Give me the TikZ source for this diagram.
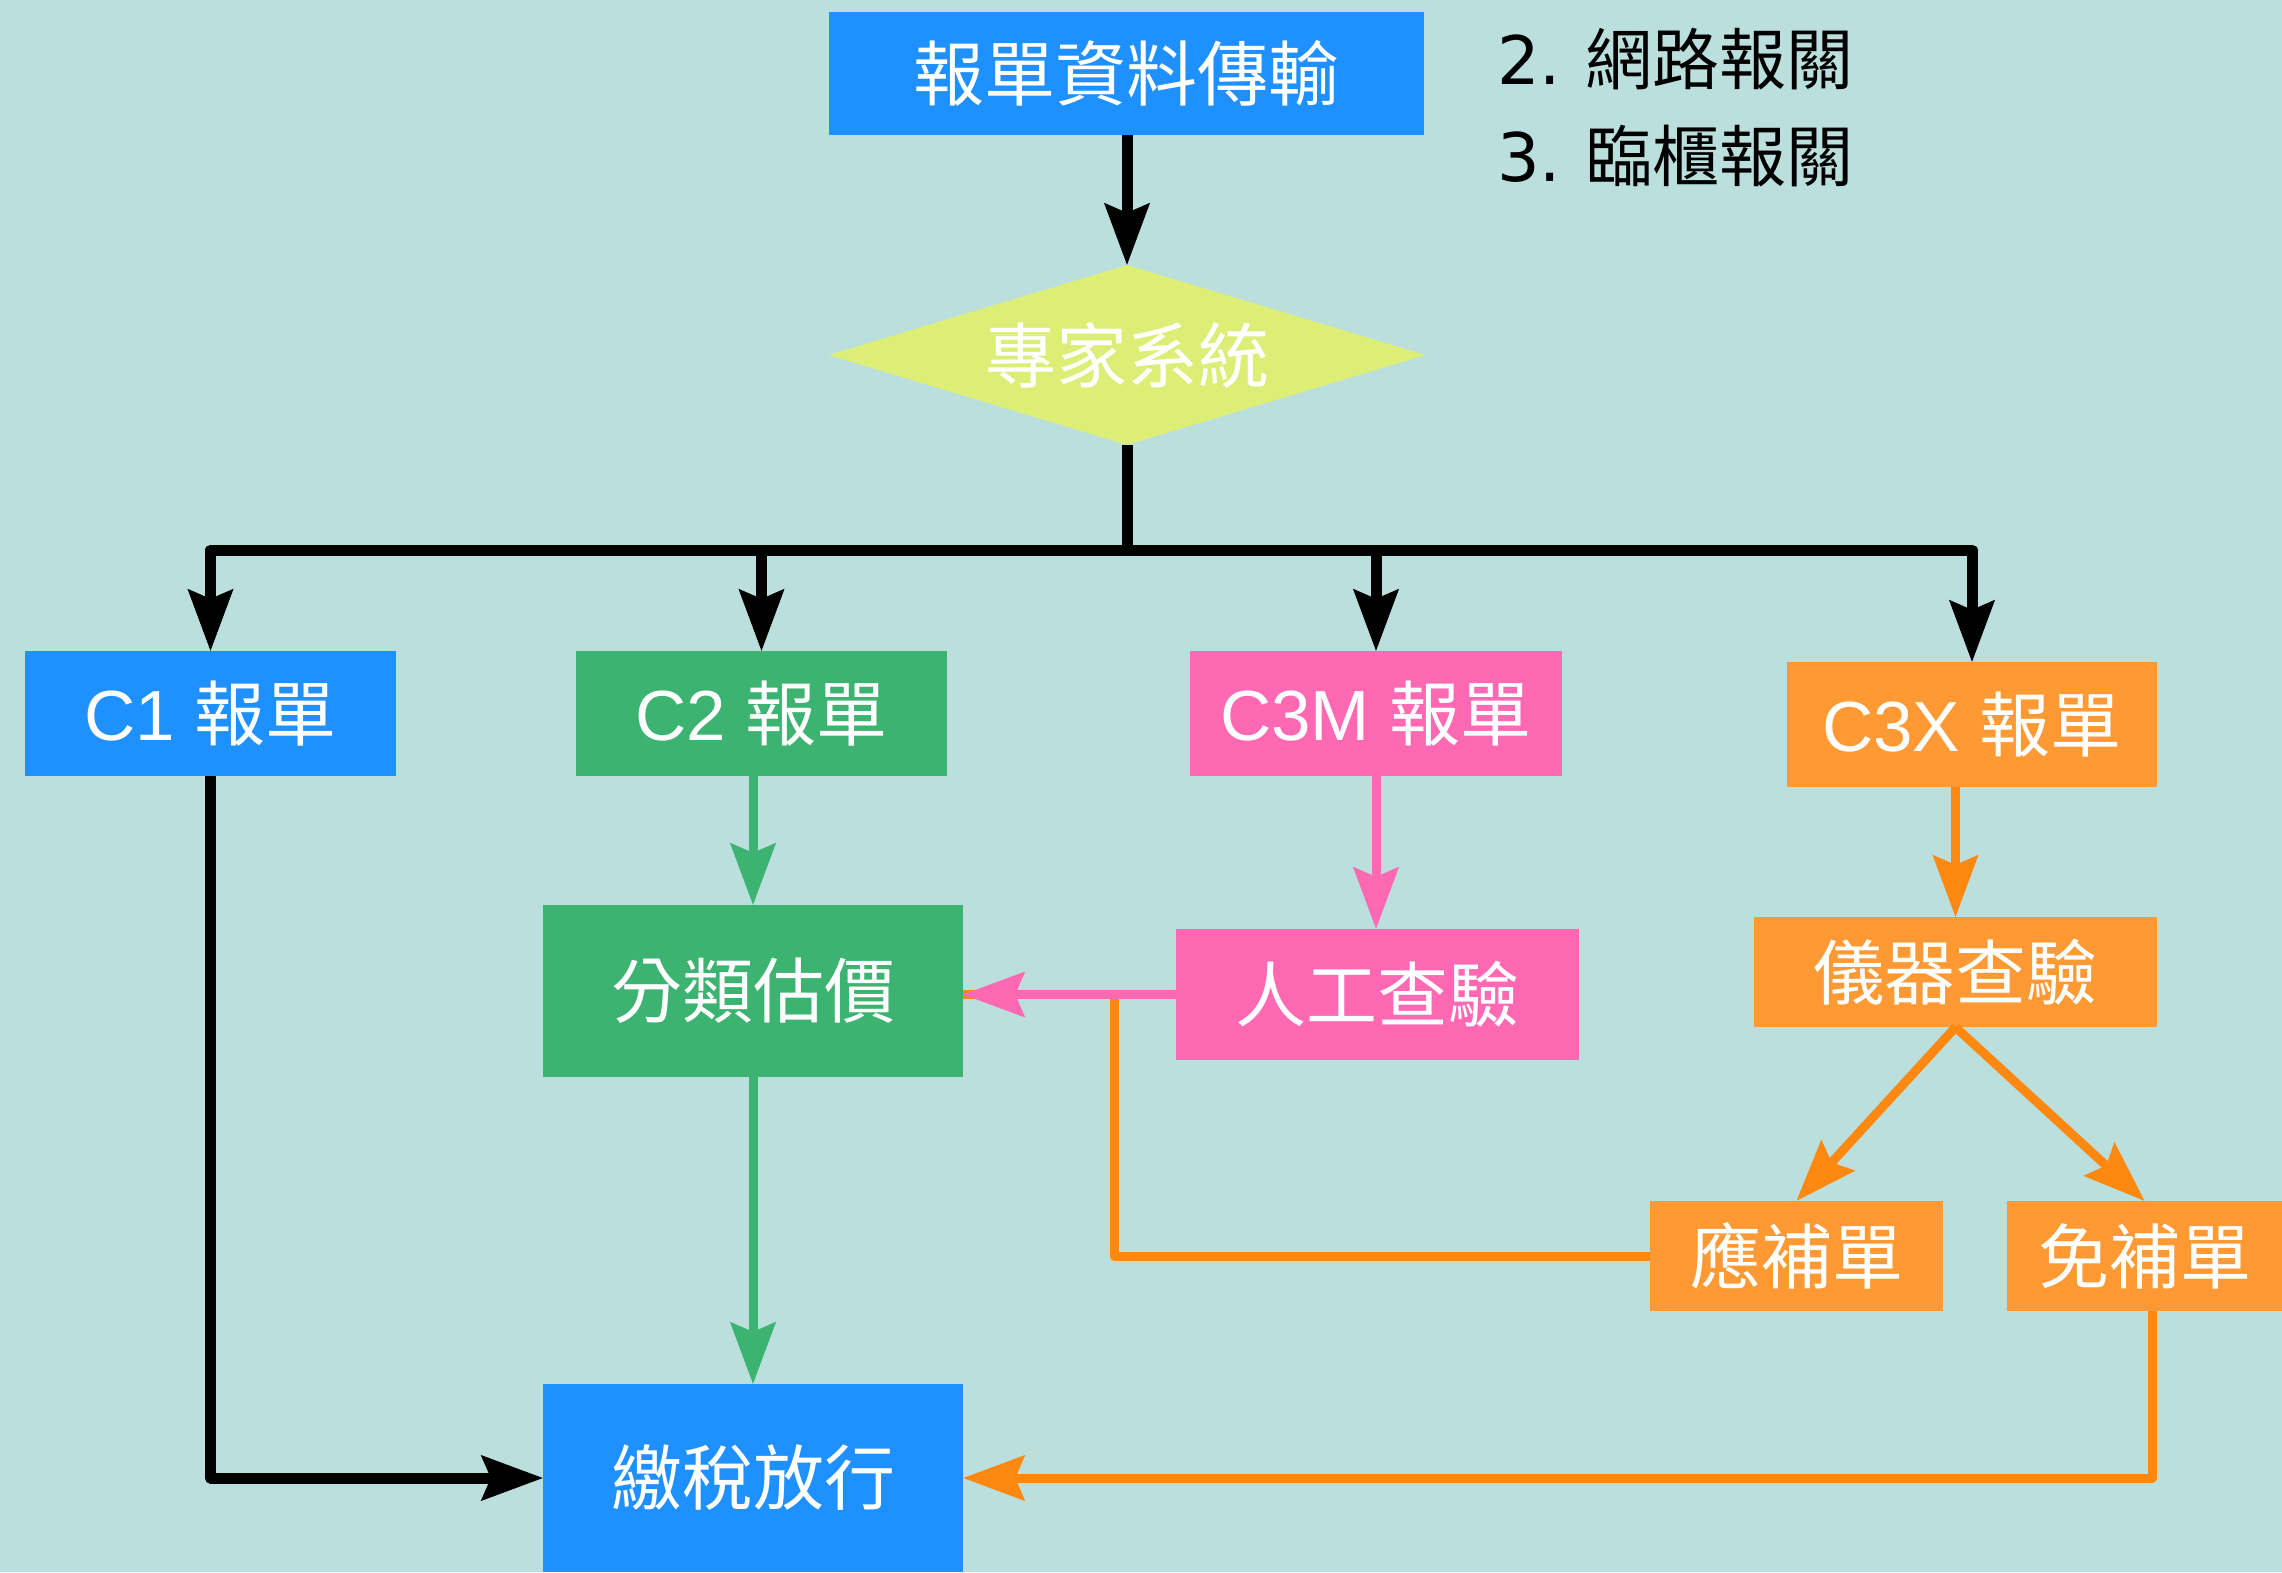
\documentclass[tikz,border=0pt]{standalone}
\usepackage{fontspec}
\setmainfont{Liberation Sans}
\newfontfamily\cjk{Noto Sans CJK TC}
\newfontfamily\dvs{DejaVu Sans}
\usetikzlibrary{arrows.meta,shapes.geometric}
\definecolor{bg}{HTML}{BBDFDC}
\definecolor{cblue}{HTML}{1E90FF}
\definecolor{cgreen}{HTML}{3CB371}
\definecolor{cpink}{HTML}{FF69B4}
\definecolor{corange}{HTML}{FF9933}
\definecolor{lorange}{HTML}{FF8811}
\definecolor{cyel}{HTML}{DDEE77}
\begin{document}
\begin{tikzpicture}[x=1pt,y=-1pt,
  box/.style={rectangle,inner sep=0pt,text=white,font=\fontsize{71}{80}\selectfont},
  tip/.style={-{Stealth[length=62pt,width=46pt,inset=10pt,line width=1pt]}},
  blk/.style={draw=black,line width=11pt,line join=round},
  grn/.style={draw=cgreen,line width=9pt,line join=round},
  pnk/.style={draw=cpink,line width=9pt,line join=round},
  org/.style={draw=lorange,line width=9pt,line join=round},
  note/.style={anchor=west,inner sep=0pt,text=black,font=\fontsize{67}{75}\selectfont}
]
\useasboundingbox (0,0) rectangle (2282,1572);
\clip (0,0) rectangle (2282,1572);
\fill[bg] (0,0) rectangle (2282,1572);

% nodes
\node[box,fill=cblue,minimum width=595pt,minimum height=123pt] (top) at (1126,73.5) {\cjk 報單資料傳輸};
\node[box,diamond,aspect=3.3,fill=cyel,minimum width=597pt,minimum height=180pt] (dia) at (1127,355) {\cjk 專家系統};
\node[note] (n2) at (1497,59) {{\dvs 2.} {\cjk 網路報關}};
\node[note] (n3) at (1497,156) {{\dvs 3.} {\cjk 臨櫃報關}};

\node[box,fill=cblue,minimum width=371pt,minimum height=125pt] (c1) at (210.5,713.5) {C1 {\cjk 報單}};
\node[box,fill=cgreen,minimum width=371pt,minimum height=125pt] (c2) at (761.5,713.5) {C2 {\cjk 報單}};
\node[box,fill=cpink,minimum width=372pt,minimum height=125pt] (c3m) at (1376,713.5) {C3M {\cjk 報單}};
\node[box,fill=corange,minimum width=370pt,minimum height=125pt] (c3x) at (1972,724.5) {C3X {\cjk 報單}};

\node[box,fill=cgreen,minimum width=420pt,minimum height=172pt] (cls) at (753,991) {\cjk 分類估價};
\node[box,fill=cpink,minimum width=403pt,minimum height=131pt] (rg) at (1377.5,994.5) {\cjk 人工查驗};
\node[box,fill=corange,minimum width=403pt,minimum height=110pt] (yq) at (1955.5,972) {\cjk 儀器查驗};
\node[box,fill=corange,minimum width=293pt,minimum height=110pt] (ying) at (1796.5,1256) {\cjk 應補單};
\node[box,fill=corange,minimum width=275pt,minimum height=110pt] (mian) at (2144.5,1256) {\cjk 免補單};
\node[box,fill=cblue,minimum width=420pt,minimum height=188pt] (pay) at (753,1478) {\cjk 繳稅放行};

% connectors
\draw[blk,tip] (top.south -| dia.north) -- (dia.north);
\draw[blk] (dia.south) -- (1127,550) coordinate (bus);
\draw[blk,tip] (bus) -| (c1.north);
\draw[blk,tip] (bus) -| (c2.north);
\draw[blk,tip] (bus) -| (c3m.north);
\draw[blk,tip] (bus) -| (c3x.north);

\draw[grn,tip] (c2.south -| cls.north) -- (cls.north);
\draw[grn,tip] (cls.south) -- (pay.north);
\draw[pnk,tip] (c3m.south) -- (c3m.south |- rg.north);
\draw[org,tip] (c3x.south -| yq.north) -- (yq.north);
\draw[org,tip] (yq.south) -- (ying.north);
\draw[org,tip] (yq.south) -- (mian.north);

\coordinate (j) at (1114,994.5);
\draw[org] (ying.west) -| (j) -- (j -| cls.east);
\draw[pnk,tip] (rg.west) -- (rg.west -| cls.east);

\draw[blk,tip] (c1.south) |- (pay.west);
\draw[org,tip] ([xshift=8pt]mian.south) |- (pay.east);
\end{tikzpicture}
\end{document}
